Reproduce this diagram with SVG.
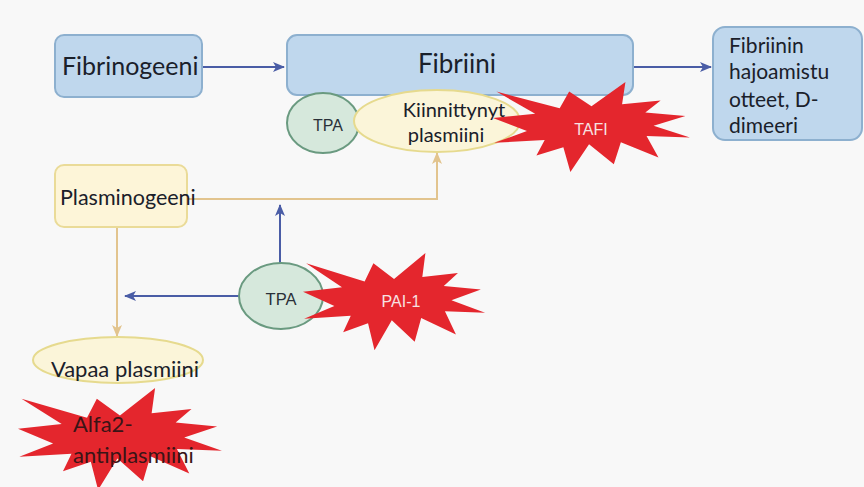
<svg xmlns="http://www.w3.org/2000/svg" xmlns:xlink="http://www.w3.org/1999/xlink" width="864" height="487" viewBox="0 0 864 487">
<style>
.box{fill:#bfd7ed;stroke:#8db0cf;stroke-width:2}
.ybox{fill:#fdf5d8;stroke:#eadb98;stroke-width:2}
.tpa{fill:#d6e8dc;stroke:#6a9a80;stroke-width:2}
.yell{fill:#fbf5d9;stroke:#e6da8e;stroke-width:2}
.star{fill:#e4262d}
.lbl{font-family:Lato,"Liberation Sans",sans-serif;fill:#1a202a}
.sm{font-family:"Liberation Sans",Arial,sans-serif;fill:#2a3038}
.wt{font-family:"Liberation Sans",Arial,sans-serif;fill:#f7e2e2}
.blue{stroke:#4a5da6;stroke-width:2;fill:none}
.org{stroke:#e2c48e;stroke-width:2;fill:none}
</style>
<defs>
<marker id="ab" markerUnits="userSpaceOnUse" markerWidth="12" markerHeight="10" refX="11" refY="5" orient="auto"><path d="M0,0 L12,5 L0,10 L3,5 Z" fill="#4a5da6"/></marker>
<marker id="ao" markerUnits="userSpaceOnUse" markerWidth="12" markerHeight="10" refX="11" refY="5" orient="auto"><path d="M0,0 L12,5 L0,10 L3,5 Z" fill="#e2c48e"/></marker>
<polygon id="boom" points="108,58 145.22,0 141.55,53.25 183.8,44.57 167.02,73.15 210.97,81.37 176.07,104.75 216,132.9 168.37,129.42 181.45,180.95 140.2,144.57 132.47,197.37 105.32,149.35 84.85,216 77.15,156.27 47.62,176.17 56.67,139.37 1.35,145.87 37.22,117.75 0,86.15 46.27,76.17 3.7,22.95 73.12,63.2 83.52,22.95"/>
</defs>
<rect width="864" height="487" fill="#f8f8f8"/>

<g id="connectors">
<line class="blue" x1="202" y1="67" x2="284" y2="67" marker-end="url(#ab)"/>
<line class="blue" x1="633" y1="67" x2="711" y2="67" marker-end="url(#ab)"/>
<path class="org" d="M187,199 H437 V153" marker-end="url(#ao)"/>
<path class="blue" d="M280,263 V205" marker-end="url(#ab)"/>
<path class="blue" d="M240,296 H125" marker-end="url(#ab)"/>
<path class="org" d="M117,227 V336" marker-end="url(#ao)"/>
</g>

<g id="fibrinogeeni">
<rect class="box" x="55" y="35" width="147" height="62" rx="9"/>
<text class="lbl" x="62" y="75" font-size="25">Fibrinogeeni</text>
</g>

<g id="fibriini">
<rect class="box" x="287" y="35" width="346" height="60" rx="10"/>
<text class="lbl" x="457" y="73" font-size="26" text-anchor="middle">Fibriini</text>
</g>

<g id="hajoamistuotteet">
<rect class="box" x="713" y="27" width="149" height="113" rx="12"/>
<text class="lbl" font-size="21"><tspan x="729" y="53">Fibriinin</tspan><tspan x="729" y="79">hajoamistu</tspan><tspan x="729" y="107">otteet, D-</tspan><tspan x="729" y="133">dimeeri</tspan></text>
</g>

<g id="tpa-top">
<ellipse class="tpa" cx="323" cy="123" rx="36" ry="30"/>
<text class="sm" x="328" y="131" font-size="16" text-anchor="middle">TPA</text>
</g>

<g id="kiinnittynyt-plasmiini">
<ellipse class="yell" cx="437" cy="121" rx="83" ry="31"/>
<text class="lbl" font-size="20" text-anchor="middle"><tspan x="454" y="117">Kiinnittynyt</tspan><tspan x="446" y="142">plasmiini</tspan></text>
</g>

<g id="tafi">
<use href="#boom" xlink:href="#boom" class="star" transform="translate(493,82) scale(0.912,0.417)"/>
<text class="wt" x="591" y="135" font-size="16" text-anchor="middle">TAFI</text>
</g>

<g id="plasminogeeni">
<rect class="ybox" x="55" y="165" width="132" height="62" rx="9"/>
<text class="lbl" x="60" y="205" font-size="21.5">Plasminogeeni</text>
</g>

<g id="tpa-bottom">
<ellipse class="tpa" cx="281" cy="296" rx="42" ry="33"/>
<text class="sm" x="281" y="305" font-size="16.5" text-anchor="middle">TPA</text>
</g>

<g id="pai-1">
<use href="#boom" xlink:href="#boom" class="star" transform="translate(303,253) scale(0.843,0.45)"/>
<text class="wt" x="401" y="307" font-size="16" text-anchor="middle">PAI-1</text>
</g>

<g id="vapaa-plasmiini">
<ellipse class="yell" cx="118" cy="360" rx="85" ry="23"/>
<text class="lbl" x="125" y="377" font-size="22" text-anchor="middle">Vapaa plasmiini</text>
</g>

<g id="alfa2-antiplasmiini">
<use href="#boom" xlink:href="#boom" class="star" transform="translate(18,388) scale(0.944,0.472)"/>
<text class="lbl" font-size="22" style="fill:#3a1416"><tspan x="73" y="432">Alfa2-</tspan><tspan x="73" y="463">antiplasmiini</tspan></text>
</g>
</svg>
